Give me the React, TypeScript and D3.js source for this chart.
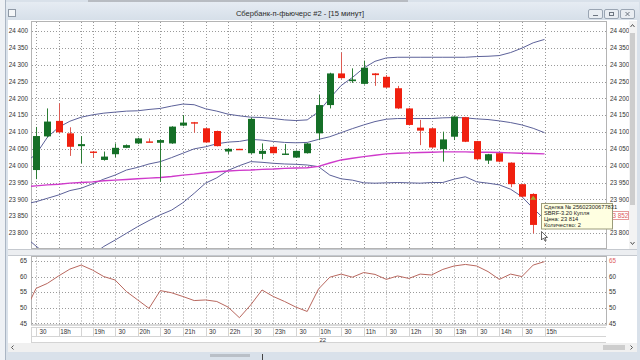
import React from "react";
import * as d3 from "d3";

// ---------- DATA ----------
const times = [
  "17:15", "17:30", "17:45", "18:00", "18:15", "18:30", "19:00", "19:15", "19:30", "19:45",
  "20:00", "20:15", "20:30", "20:45", "21:00", "21:15", "21:30", "21:45", "22:00", "22:15",
  "22:30", "22:45", "23:00", "23:15", "23:30", "23:45", "10:00", "10:15", "10:30", "10:45",
  "11:00", "11:15", "11:30", "11:45", "12:00", "12:15", "12:30", "12:45", "13:00", "13:15",
  "13:30", "13:45", "14:00", "14:15", "14:30", "14:45", "15:00",
];
// candles start at 17:30
const candleTimes = times.slice(1);
const openV = [23987, 24087, 24133, 24096, 24058, 24042, 24017, 24034, 24053, 24066, 24072, 24068, 24066, 24119, 24129, 24111, 24103, 24042, 24050, 24037, 24035, 24056, 24034, 24024, 24037, 24096, 24180, 24274, 24251, 24243, 24274, 24264, 24230, 24170, 24113, 24111, 24049, 24086, 24144, 24073, 24015, 24037, 24009, 23945, 23916, 23824];
const closeV = [24088, 24131, 24099, 24056, 24064, 24040, 24027, 24053, 24061, 24081, 24070, 24076, 24116, 24128, 24126, 24069, 24058, 24050, 24048, 24139, 24044, 24037, 24036, 24044, 24066, 24180, 24274, 24260, 24256, 24291, 24269, 24232, 24170, 24121, 24104, 24054, 24078, 24146, 24071, 24019, 24034, 24012, 23945, 23908, 23824, 23852];
const highV = [24115, 24170, 24185, 24114, 24088, 24043, 24042, 24066, 24063, 24083, 24081, 24078, 24117, 24150, 24130, 24112, 24104, 24052, 24050, 24143, 24066, 24057, 24064, 24045, 24067, 24210, 24276, 24336, 24289, 24312, 24275, 24269, 24237, 24172, 24136, 24112, 24101, 24147, 24145, 24074, 24035, 24038, 24010, 23946, 23918, 23853];
const lowV = [23960, 24084, 24097, 24029, 24007, 24023, 24015, 24025, 24052, 24064, 24069, 23952, 24065, 24117, 24098, 24068, 24057, 24035, 24047, 24035, 24019, 24036, 24033, 24023, 24036, 24076, 24170, 24258, 24246, 24241, 24237, 24231, 24168, 24119, 24061, 24052, 24012, 24076, 24070, 24017, 24005, 24010, 23936, 23906, 23799, 23814];

// Bollinger bands and moving average (from 17:15)
const upperBand = [24008, 24034, 24084, 24114, 24132, 24144, 24151, 24156, 24159, 24162, 24163, 24167, 24170, 24177, 24183, 24181, 24169, 24162, 24153, 24148, 24144, 24143, 24140, 24136, 24134, 24136, 24160, 24200, 24238, 24262, 24290, 24310, 24320, 24322, 24322, 24322, 24322, 24322, 24322, 24322, 24324, 24325, 24327, 24336, 24349, 24365, 24375];
const middleBand = [23886, 23893, 23903, 23913, 23926, 23933, 23946, 23960, 23972, 23987, 23995, 24005, 24012, 24024, 24037, 24050, 24056, 24065, 24070, 24072, 24078, 24076, 24072, 24069, 24068, 24069, 24078, 24086, 24098, 24110, 24121, 24131, 24138, 24140, 24140, 24140, 24140, 24142, 24143, 24142, 24139, 24137, 24133, 24128, 24121, 24111, 24098];
const lowerBand = [23790, 23761, 23735, 23718, 23708, 23712, 23735, 23760, 23779, 23799, 23819, 23837, 23854, 23868, 23890, 23918, 23948, 23964, 23986, 24000, 24012, 24010, 24007, 24005, 24004, 24002, 23997, 23972, 23961, 23957, 23949, 23948, 23949, 23950, 23949, 23948, 23950, 23950, 23960, 23967, 23952, 23948, 23943, 23930, 23908, 23873, 23841];
const maLine = [23937, 23940, 23943, 23945, 23948, 23950, 23952, 23955, 23957, 23959, 23961, 23963, 23965, 23968, 23972, 23975, 23979, 23982, 23984, 23986, 23987, 23989, 23990, 23992, 23993, 23994, 23998, 24008, 24017, 24022, 24027, 24031, 24035, 24037, 24038, 24039, 24040, 24041, 24041, 24041, 24040, 24040, 24039, 24038, 24037, 24036, 24035];
const rsiV = [48.5, 56.2, 57.8, 60.2, 62.4, 63.7, 62.1, 60.0, 58.9, 55.2, 52.5, 49.8, 55.5, 54.8, 53.6, 52.3, 52.5, 52.0, 50.2, 46.8, 50.9, 55.7, 53.6, 52.0, 50.2, 48.8, 56.0, 59.8, 60.8, 59.8, 61.3, 60.7, 59.1, 60.2, 59.4, 60.8, 60.5, 62.3, 63.4, 63.9, 63.4, 61.6, 59.1, 60.8, 60.0, 63.7, 64.8];

const priceTicks = [23800, 23850, 23900, 23950, 24000, 24050, 24100, 24150, 24200, 24250, 24300, 24350, 24400];
const rsiTicks = [45, 50, 55, 60, 65];
const xTickTimes = ["17:30", "18:00", "18:30", "19:00", "19:30", "20:00", "20:30", "21:00", "21:30", "22:00", "22:30", "23:00", "23:30", "10:00", "10:30", "11:00", "11:30", "12:00", "12:30", "13:00", "13:30", "14:00", "14:30", "15:00"];
const xTickLabels = ["30", "18h", "", "19h", "30", "20h", "30", "21h", "30", "22h", "30", "23h", "30", "10h", "30", "11h", "30", "12h", "30", "13h", "30", "14h", "30", "15h"];
const dateLabel = { time: "10:00", text: "22" };

const titleText = "Сбербанк-п-фьючерс #2 - [15 минут]";
const lastPrice = 23852;
const lastRsi = 65;
const dealTime = "14:45";
const dealPrice = 23905;
const tooltipLines = ["Сделка № 25602300677831", "SBRF-3.20 Купля", "Цена: 23 814", "Количество: 2"];

// ---------- STYLE ----------
const FONT = "'Liberation Sans', Arial, sans-serif";
const GREEN = "#156f27";
const RED = "#f0200f";
const BAND = "#5c6199";
const MAGENTA = "#cf3acb";
const RSI_COL = "#b8675e";
const GRID = "#9a9a9a";

export default function App() {
  const W = 640, H = 360;
  const plotL = 31, plotR = 606;
  const mainT = 21, mainB = 248;
  const indT = 256.5, indB = 325;

  const x = d3.scaleLinear().domain([1, times.length - 1]).range([36, 544.5]);
  const xt = (t: string) => x(times.indexOf(t));
  const y = d3.scaleLinear().domain([23800, 24400]).range([233, 31]);
  const yr = d3.scaleLinear().domain([45, 65]).range([323.3, 261]);
  const fmt = (v: number) => d3.format(",")(v).replace(/,/g, " ");

  const lineGen = (arr: number[], ys: d3.ScaleLinear<number, number>) =>
    d3.line<number>().x((_, i) => x(i)).y((d) => ys(d))(arr) || "";

  const crisp = (v: number) => Math.round(v) + 0.5;

  return (
    <svg width={W} height={H} viewBox={`0 0 ${W} ${H}`} style={{ position: "absolute", left: 0, top: 0, display: "block" }} fontFamily={FONT}>
      <defs>
        <linearGradient id="tb" x1="0" y1="0" x2="0" y2="1">
          <stop offset="0" stopColor="#e6ecf3" />
          <stop offset="1" stopColor="#d6dfe9" />
        </linearGradient>
        <clipPath id="mainClip"><rect x={plotL} y={mainT} width={plotR - plotL} height={mainB - mainT} /></clipPath>
        <clipPath id="indClip"><rect x={plotL} y={indT} width={plotR - plotL} height={indB - indT} /></clipPath>
      </defs>

      {/* window frame */}
      <rect x={0} y={0} width={W} height={H} fill="#d9e1ea" />
      <rect x={0} y={0} width={5} height={H} fill="#eef1f5" />
      <line x1={5.5} y1={0} x2={5.5} y2={H} stroke="#aab5c3" />
      <rect x={88} y={0} width={320} height={2} fill="#b8bcc2" />
      <rect x={6} y={2} width={633} height={18} fill="url(#tb)" />
      <rect x={8.5} y={9.5} width={7} height={7} fill="#f4f6f8" stroke="#8f99a6" />
      <text x={300} y={16} fontSize={7.6} fill="#2b2b2b" textAnchor="middle">{titleText}</text>
      {[588, 604, 620].map((bx, k) => (
        <g key={bx}>
          <rect x={bx + 0.5} y={9.5} width={14} height={9} rx={1.5} fill="#e9edf2" stroke="#9aa5b3" />
          {k === 0 && <line x1={bx + 5} y1={15.5} x2={bx + 10} y2={15.5} stroke="#6d7580" />}
          {k === 1 && <rect x={bx + 5.5} y={12.5} width={4} height={3} fill="none" stroke="#6d7580" />}
          {k === 2 && <path d={`M${bx + 5.5},12 L${bx + 9.5},16 M${bx + 9.5},12 L${bx + 5.5},16`} stroke="#6d7580" />}
        </g>
      ))}

      {/* client area */}
      <rect x={8} y={20} width={629} height={323} fill="#ffffff" />

      {/* ===== MAIN PANEL ===== */}
      <rect x={plotL + 0.5} y={mainT + 0.5} width={plotR - plotL} height={mainB - mainT} fill="#ffffff" stroke="#b4b4b4" />
      <g stroke={GRID} strokeDasharray="1,2" strokeWidth={1}>
        {priceTicks.map((p) => (
          <line key={p} x1={plotL + 1} x2={plotR} y1={crisp(y(p))} y2={crisp(y(p))} />
        ))}
        {xTickTimes.map((t) => (
          <line key={t} x1={crisp(xt(t))} x2={crisp(xt(t))} y1={mainT + 1} y2={mainB} />
        ))}
      </g>
      {priceTicks.map((p) => (
        <g key={p} fontSize={6.3} fill="#333">
          <text x={28} y={y(p) + 2.2} textAnchor="end">{fmt(p)}</text>
          <text x={610} y={y(p) + 2.2}>{fmt(p)}</text>
        </g>
      ))}

      <g clipPath="url(#mainClip)">
        <path d={lineGen(upperBand, y)} fill="none" stroke={BAND} strokeWidth={1} />
        <path d={lineGen(middleBand, y)} fill="none" stroke={BAND} strokeWidth={1} />
        <path d={lineGen(lowerBand, y)} fill="none" stroke={BAND} strokeWidth={1} />
        <path d={lineGen(maLine, y)} fill="none" stroke={MAGENTA} strokeWidth={1.4} />
        {candleTimes.map((t, i) => {
          const cx = xt(t);
          const o = openV[i], c = closeV[i];
          const up = c >= o;
          const top = y(Math.max(o, c));
          const bot = y(Math.min(o, c));
          const h = Math.max(bot - top, 1.4);
          const col = up ? GREEN : RED;
          const wick = up ? "#2b7d34" : "#dd5a52";
          return (
            <g key={t}>
              <line x1={Math.round(cx) + 0.5} x2={Math.round(cx) + 0.5} y1={y(highV[i])} y2={y(lowV[i])} stroke={wick} strokeWidth={1} />
              <rect x={Math.round(cx) - 3} y={top} width={7} height={h} fill={col} />
            </g>
          );
        })}
        {/* deal marker */}
        <path d={`M${xt(dealTime) - 3},${y(dealPrice) + 2} L${xt(dealTime) + 3},${y(dealPrice) + 2} L${xt(dealTime)},${y(dealPrice) - 2} Z`} fill="#a4a92e" />
      </g>

      {/* vertical scrollbar */}
      <rect x={629} y={21} width={8} height={228} fill="#f3f3f3" />
      <rect x={630} y={33} width={5} height={172} fill="#cdcdcd" />
      <path d="M630.5,27 L632.5,24.5 L634.5,27" fill="none" stroke="#555" />
      <path d="M630.5,242 L632.5,244.5 L634.5,242" fill="none" stroke="#555" />

      {/* last price marker */}
      <rect x={607.5} y={y(lastPrice) - 4} width={21} height={8} fill="#ffffff" stroke="#e59a9a" />
      <text x={609} y={y(lastPrice) + 2.2} fontSize={6.3} fill="#e05a5a">{fmt(lastPrice)}</text>

      {/* tooltip */}
      <rect x={541.5} y={203.5} width={71} height={25.5} fill="#ffffe1" stroke="#9b9b7a" />
      {tooltipLines.map((s, k) => (
        <text key={k} x={544} y={208.7 + k * 6} fontSize={5.7} fill="#222">{s}</text>
      ))}
      {/* mouse cursor */}
      <path d="M541.5,231.5 L541.5,240 L543.5,238 L545,241 L546.2,240.4 L544.8,237.6 L547.5,237.4 Z" fill="#ffffff" stroke="#222" strokeWidth={0.7} />

      {/* panel separator */}
      <rect x={8} y={249} width={629} height={7} fill="#eceef1" />
      <line x1={8} x2={637} y1={249.5} y2={249.5} stroke="#c5c9cf" />
      <line x1={8} x2={637} y1={255.5} y2={255.5} stroke="#c5c9cf" />

      {/* ===== INDICATOR PANEL ===== */}
      <rect x={plotL + 0.5} y={indT} width={plotR - plotL} height={indB - indT} fill="#ffffff" stroke="#b4b4b4" />
      <g stroke={GRID} strokeDasharray="1,2" strokeWidth={1}>
        {rsiTicks.map((v) => (
          <line key={v} x1={plotL + 1} x2={plotR} y1={crisp(yr(v))} y2={crisp(yr(v))} />
        ))}
        {xTickTimes.map((t) => (
          <line key={t} x1={crisp(xt(t))} x2={crisp(xt(t))} y1={indT + 1} y2={indB} />
        ))}
      </g>
      {rsiTicks.map((v) => (
        <g key={v} fontSize={6.3} fill="#333">
          <text x={27} y={yr(v) + 2.2} textAnchor="end">{v}</text>
          {v !== lastRsi && <text x={609} y={yr(v) + 2.2}>{v}</text>}
        </g>
      ))}
      <text x={609} y={yr(lastRsi) + 2.2} fontSize={6.3} fill="#e06060">{lastRsi}</text>
      <g clipPath="url(#indClip)">
        <path d={lineGen(rsiV, yr)} fill="none" stroke={RSI_COL} strokeWidth={1} />
      </g>

      {/* ===== X AXIS ===== */}
      <line x1={plotL} x2={plotR} y1={327.5} y2={327.5} stroke="#d4d4d4" />
      <line x1={plotL} x2={plotR} y1={336.5} y2={336.5} stroke="#d4d4d4" />
      <line x1={plotL} x2={plotR} y1={342.5} y2={342.5} stroke="#d4d4d4" />
      <line x1={plotL + 0.5} x2={plotL + 0.5} y1={327} y2={343} stroke="#d4d4d4" />
      {xTickTimes.map((t, k) => (
        <g key={t}>
          <line x1={crisp(xt(t))} x2={crisp(xt(t))} y1={327} y2={336} stroke="#d4d4d4" />
          <text x={xt(t) + 7} y={334} fontSize={6.3} fill="#333" textAnchor="middle">{xTickLabels[k]}</text>
        </g>
      ))}
      <text x={xt(dateLabel.time) + 1} y={341.5} fontSize={6} fill="#333">{dateLabel.text}</text>

      {/* horizontal scrollbar */}
      <rect x={8} y={343} width={629} height={9} fill="#f0f0f0" />
      <path d="M13.5,345.5 L11.5,347.5 L13.5,349.5" fill="none" stroke="#555" />
      <rect x={603} y={345} width={22} height={5} fill="#cdcdcd" />
      <path d="M630.5,345.5 L632.5,347.5 L630.5,349.5" fill="none" stroke="#555" />
      <rect x={6} y={352} width={633} height={8} fill="#d9e1ea" />
      <rect x={210} y={354} width={40} height={3} fill="#b9bfc7" />
      <line x1={262.5} x2={262.5} y1={354} y2={360} stroke="#444" />
    </svg>
  );
}
